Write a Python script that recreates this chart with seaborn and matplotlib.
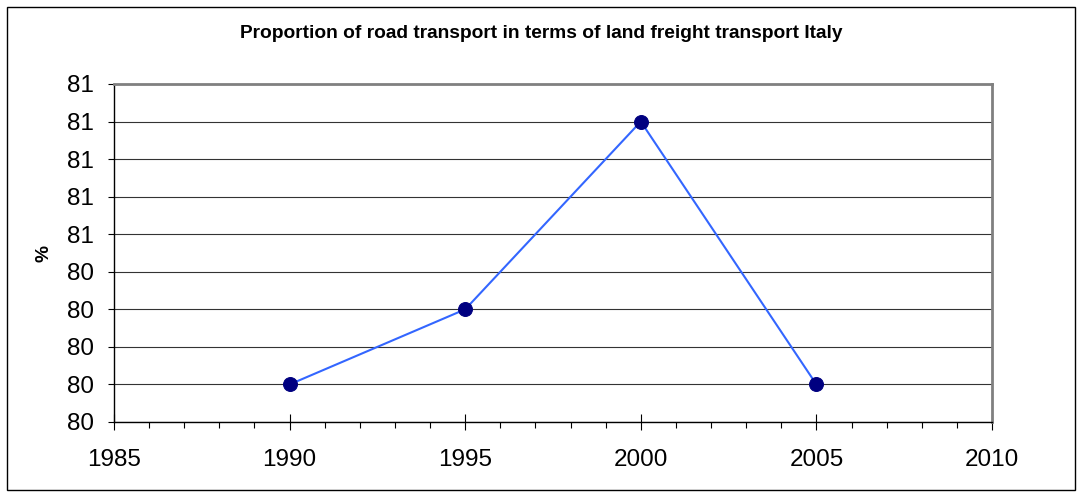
import numpy as np
import pandas as pd
import seaborn as sns
import matplotlib.pyplot as plt
from matplotlib.patches import Rectangle
from matplotlib.ticker import MultipleLocator, FormatStrFormatter

# data
years = [1990, 1995, 2000, 2005]
share = [79.8, 80.2, 81.2, 79.8]
y_ticks = [79.6, 79.8, 80.0, 80.2, 80.4, 80.6, 80.8, 81.0, 81.2, 81.4]
x_ticks = [1985, 1990, 1995, 2000, 2005, 2010]

df = pd.DataFrame({'year': years, 'share': share})

sns.set_theme(style='white')
plt.rcParams['font.family'] = ['Liberation Sans', 'DejaVu Sans']
plt.rcParams['text.color'] = 'black'
plt.rcParams['xtick.color'] = 'black'
plt.rcParams['ytick.color'] = 'black'

fig = plt.figure(figsize=(10.82, 4.95), dpi=100)
ax = fig.add_axes([114 / 1082, 1 - 422 / 495, (992 - 114) / 1082, (422 - 84) / 495])

sns.lineplot(data=df, x='year', y='share', ax=ax, color='#3366ff', linewidth=1.5,
             marker='o', markersize=10, markerfacecolor='#000080',
             markeredgecolor='#000080')

ax.set_xlim(1985, 2010)
ax.set_ylim(79.6, 81.4)
ax.set_xticks(x_ticks)
ax.set_yticks(y_ticks)
ax.xaxis.set_minor_locator(MultipleLocator(1))
ax.yaxis.set_major_formatter(FormatStrFormatter('%.0f'))
ax.grid(axis='y', color='#333333', linewidth=0.8)
ax.set_axisbelow(True)

ax.tick_params(axis='x', which='major', direction='inout', length=11.5, width=0.8,
               labelsize=17.5, pad=14, bottom=True)
ax.tick_params(axis='x', which='minor', direction='out', length=4.3, width=0.8,
               bottom=True)
ax.tick_params(axis='y', which='major', direction='out', length=4.3, width=0.8,
               labelsize=17.5, pad=10, left=True)

for side in ['left', 'bottom']:
    ax.spines[side].set_color('black')
    ax.spines[side].set_linewidth(1.0)
for side in ['top', 'right']:
    ax.spines[side].set_color('#808080')
    ax.spines[side].set_linewidth(2.0)

ax.set_xlabel('')
ax.set_ylabel('')

fig.text(0.5, 1 - 33 / 495, 'Proportion of road transport in terms of land freight transport Italy',
         ha='center', va='center', fontsize=13.8, fontweight='bold')
fig.text(44 / 1082, 1 - 253 / 495, '%', ha='center', va='center', rotation=90,
         fontsize=13.8, fontweight='bold')

fig.patches.append(Rectangle((7 / 1082, 1 - 490 / 495), 1068 / 1082, 483 / 495,
                             transform=fig.transFigure, fill=False,
                             edgecolor='black', linewidth=1.0))

fig.savefig('out.png', dpi=100)
